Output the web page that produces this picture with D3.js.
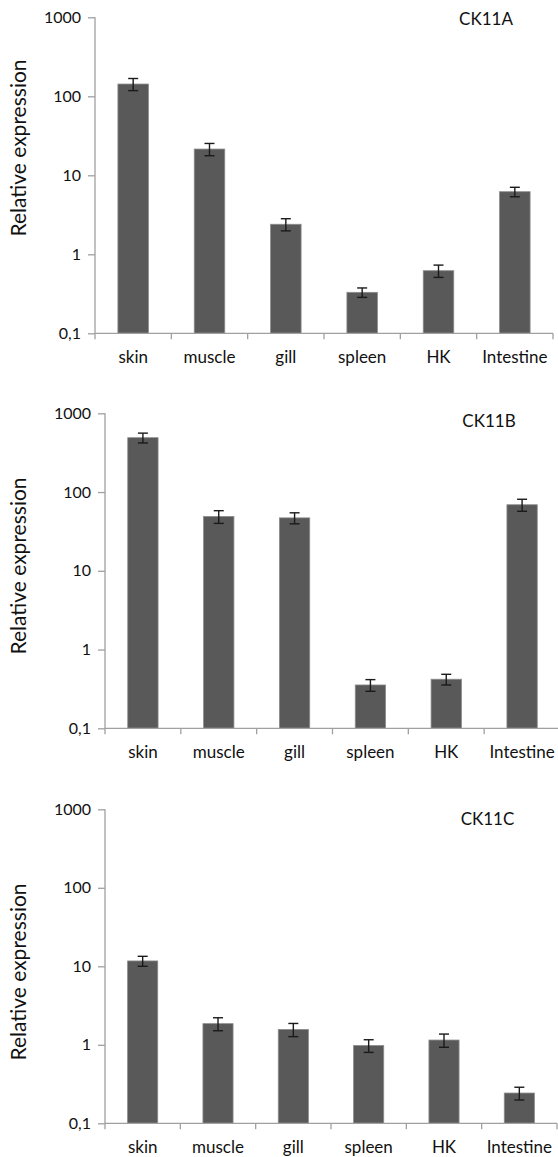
<!DOCTYPE html>
<html>
<head>
<meta charset="utf-8">
<script src="https://cdn.jsdelivr.net/npm/d3@7"></script>
<style>
  html, body { margin: 0; padding: 0; background: #fff; }
  svg { display: block; }
  text { font-family: Lato, "Open Sans", sans-serif; fill: #111; }
</style>
</head>
<body>
<svg id="chart" width="558" height="1157"></svg>
<script>
// ---- data ----
const categories = ["skin", "muscle", "gill", "spleen", "HK", "Intestine"];
const panelTitles = ["CK11A", "CK11B", "CK11C"];
const ck11aValues = [143, 21.5, 2.4, 0.33, 0.62, 6.2];
const ck11aErrors = [25, 3.8, 0.42, 0.045, 0.11, 0.85];
const ck11bValues = [490, 49, 47, 0.355, 0.42, 69];
const ck11bErrors = [70, 9, 7.5, 0.06, 0.065, 12];
const ck11cValues = [11.7, 1.86, 1.57, 0.98, 1.15, 0.243];
const ck11cErrors = [1.7, 0.35, 0.3, 0.18, 0.22, 0.045];
const yTickValues = [0.1, 1, 10, 100, 1000];
const yTickLabels = ["0,1", "1", "10", "100", "1000"];
const yAxisTitle = "Relative expression";

const seriesValues = [ck11aValues, ck11bValues, ck11cValues];
const seriesErrors = [ck11aErrors, ck11bErrors, ck11cErrors];

// ---- layout ----
const layouts = [
  { left: 95,  right: 553, top: 17.3,  bottom: 333.3,  titleX: 486,   titleY: 25,  labelY: 148 },
  { left: 105, right: 560, top: 413.3, bottom: 728.3,  titleX: 489,   titleY: 427, labelY: 566 },
  { left: 105, right: 557, top: 809.3, bottom: 1123.3, titleX: 487.5, titleY: 825, labelY: 972 }
];

const svg = d3.select("#chart");
const axisColor = "#a0a0a0";

layouts.forEach((L, p) => {
  const g = svg.append("g");
  const values = seriesValues[p];
  const errors = seriesErrors[p];

  const y = d3.scaleLog().domain([0.1, 1000]).range([L.bottom, L.top]);
  const x = d3.scaleBand().domain(categories).range([L.left, L.right])
    .paddingInner(0.6).paddingOuter(0.3);
  const step = x.step();

  // bars
  g.selectAll("rect.bar").data(categories).enter().append("rect")
    .attr("class", "bar")
    .attr("x", d => x(d))
    .attr("width", x.bandwidth())
    .attr("y", (d, i) => y(values[i]))
    .attr("height", (d, i) => y(0.1) - y(values[i]))
    .attr("fill", "#595959")
    .attr("stroke", "#8c8c8c")
    .attr("stroke-width", 0.8);

  // error bars
  const capW = 5;
  categories.forEach((c, i) => {
    const cx = x(c) + x.bandwidth() / 2;
    const hi = y(values[i] + errors[i]);
    const lo = y(Math.max(values[i] - errors[i], 0.1001));
    const eg = g.append("g").attr("stroke", "#1a1a1a").attr("stroke-width", 1.4);
    eg.append("line").attr("x1", cx).attr("x2", cx).attr("y1", hi).attr("y2", lo);
    eg.append("line").attr("x1", cx - capW).attr("x2", cx + capW).attr("y1", hi).attr("y2", hi);
    eg.append("line").attr("x1", cx - capW).attr("x2", cx + capW).attr("y1", lo).attr("y2", lo);
  });

  // y axis
  const yAxis = d3.axisLeft(y).tickValues(yTickValues)
    .tickFormat((d, i) => yTickLabels[i]).tickSize(7).tickPadding(7);
  const ya = g.append("g").attr("transform", `translate(${L.left},0)`).call(yAxis);
  ya.select(".domain").attr("stroke", axisColor).attr("stroke-width", 1.3).attr("d", `M0,${L.top}V${L.bottom}`);
  ya.selectAll(".tick line").attr("stroke", axisColor).attr("stroke-width", 1.3);
  ya.selectAll(".tick text").attr("font-size", 16).attr("font-family", "Lato, sans-serif").attr("fill", "#111");

  // x axis (line + ticks at band boundaries)
  const xAxis = d3.axisBottom(x).tickSize(0).tickPadding(18);
  const xa = g.append("g").attr("transform", `translate(0,${L.bottom})`).call(xAxis);
  xa.select(".domain").attr("stroke", axisColor).attr("stroke-width", 1.3).attr("d", `M${L.left},0H${L.right}`);
  xa.selectAll(".tick text").attr("font-size", 17).attr("font-family", "Lato, sans-serif").attr("fill", "#111");
  d3.range(categories.length + 1).forEach(k => {
    const bx = L.left + k * step;
    xa.append("line").attr("x1", bx).attr("x2", bx).attr("y1", 0).attr("y2", 6)
      .attr("stroke", axisColor).attr("stroke-width", 1.3);
  });

  // title
  g.append("text").attr("x", L.titleX).attr("y", L.titleY)
    .attr("text-anchor", "middle").attr("font-size", 17).text(panelTitles[p]);

  // y axis title
  g.append("text")
    .attr("transform", `translate(26,${L.labelY}) rotate(-90)`)
    .attr("text-anchor", "middle").attr("font-size", 21).text(yAxisTitle);
});
</script>
</body>
</html>
